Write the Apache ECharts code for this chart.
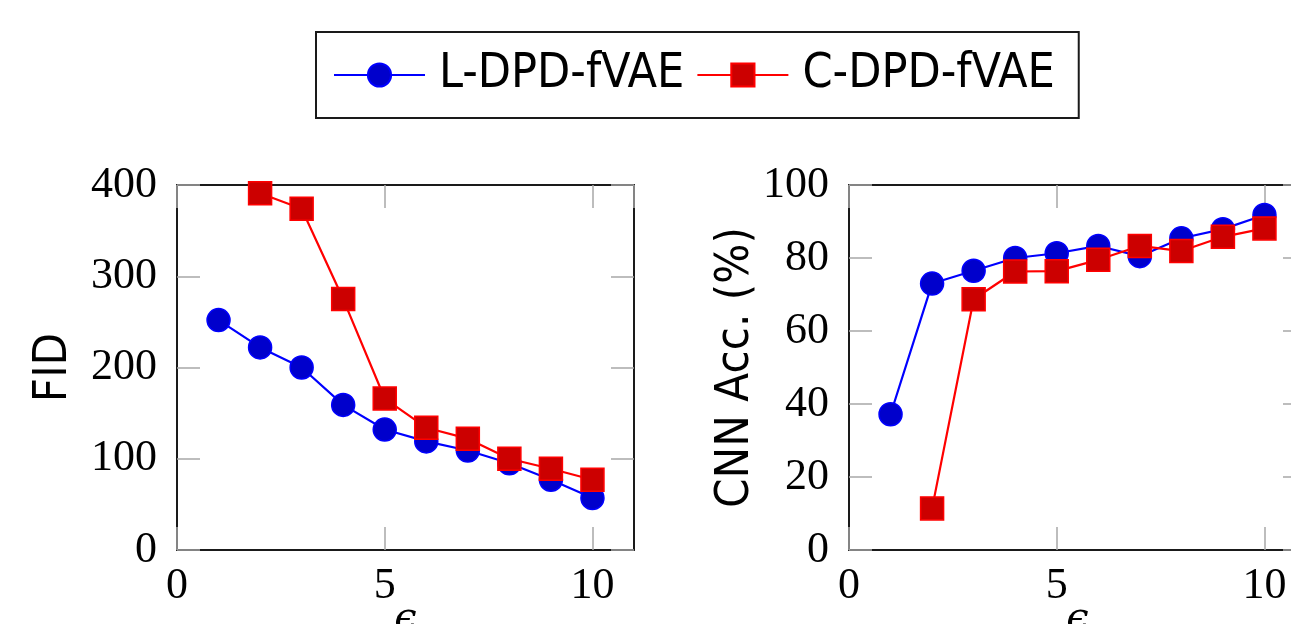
<!DOCTYPE html>
<html><head><meta charset="utf-8">
<script src="https://cdn.jsdelivr.net/npm/echarts@6/dist/echarts.min.js"></script>
<style>html,body{margin:0;padding:0;background:#fff}#c{width:1291px;height:624px}</style>
</head><body><div id="c"></div>
<script>
const seriesNames = ['L-DPD-fVAE', 'C-DPD-fVAE'];
const epsilons = [1, 2, 3, 4, 5, 6, 7, 8, 9, 10];
const fidL = [252, 222, 200, 159, 132, 119, 109, 95, 77, 57];
const fidC = [null, 391, 374, 275, 166, 134, 122, 100, 89, 77];
const accL = [37.2, 73, 76.5, 80, 81.3, 83.3, 80.5, 85.4, 87.9, 91.8];
const accC = [null, 11.4, 68.7, 76.3, 76.4, 79.5, 83.3, 81.9, 85.8, 88.1];
const xTickLabels = ['0', '5', '10'];
const fidTickLabels = ['0', '100', '200', '300', '400'];
const accTickLabels = ['0', '20', '40', '60', '80', '100'];

const pairs = ys => epsilons.map((x, i) => [x, ys[i]]).filter(p => p[1] !== null);

const serif = 'Liberation Serif';
const sans = "'DejaVu Sans Condensed', 'Liberation Sans Narrow', 'Noto Sans', sans-serif";
const tickStyle = {show: true, inside: true, length: 23, lineStyle: {color: '#a8a8a8', width: 1.5}};
const lineStyleAxis = {show: true, onZero: false, lineStyle: {color: '#1a1a1a', width: 2}};

function xAxes(grid) {
  const base = {type: 'value', gridIndex: grid, min: 0, max: 11, interval: 5,
    axisLine: lineStyleAxis, axisTick: tickStyle, splitLine: {show: false}};
  return [
    Object.assign({}, base, {position: 'bottom', z: 3,
      name: '\u03F5', nameLocation: 'middle', nameGap: 50, nameMoveOverlap: false,
      nameTextStyle: {fontFamily: 'DejaVu Serif', fontStyle: 'italic', fontSize: 40, color: '#000'},
      axisLabel: {show: true, margin: 14, fontFamily: serif, fontSize: 44, color: '#000',
        showMaxLabel: false,
        formatter: v => xTickLabels.includes(String(v)) ? String(v) : ''}}),
    Object.assign({}, base, {position: 'top', z: 3, axisLabel: {show: false}})
  ];
}
function yAxes(grid, max, interval, labels, name, gap) {
  const base = {type: 'value', gridIndex: grid, min: 0, max: max, interval: interval,
    axisLine: lineStyleAxis, axisTick: tickStyle, splitLine: {show: false}};
  return [
    Object.assign({}, base, {position: 'left', z: 3,
      name: name, nameLocation: 'middle', nameRotate: 90, nameGap: gap,
      nameTextStyle: {fontFamily: sans, fontSize: 47, color: '#000'},
      axisLabel: {show: true, margin: 20, fontFamily: serif, fontSize: 44, color: '#000',
        formatter: v => labels.includes(String(v)) ? String(v) : ''}}),
    Object.assign({}, base, {position: 'right', z: 3, axisLabel: {show: false}})
  ];
}

const lStyle = {symbol: 'circle', symbolSize: 23,
  lineStyle: {color: '#0000ff', width: 2.2},
  itemStyle: {color: '#0000cc', borderColor: '#0000ff', borderWidth: 1.5}};
const cStyle = {symbol: 'rect', symbolSize: 23,
  lineStyle: {color: '#ff0000', width: 2.2},
  itemStyle: {color: '#cc0000', borderColor: '#ff0000', borderWidth: 1.5}};

const option = {
  animation: false,
  backgroundColor: '#fff',
  legend: {
    left: 316, top: 32, orient: 'horizontal',
    padding: [18, 24, 18, 17],
    borderColor: '#1a1a1a', borderWidth: 2,
    itemWidth: 91, itemHeight: 29, itemGap: 12,
    textStyle: {fontFamily: sans, fontSize: 48, lineHeight: 50, color: '#000', padding: [0, 0, 0, 9]},
    data: seriesNames
  },
  grid: [
    {left: 177, top: 185, width: 457, height: 365, containLabel: false, outerBoundsMode: 'none'},
    {left: 849, top: 185, width: 457, height: 365, containLabel: false, outerBoundsMode: 'none'}
  ],
  xAxis: [...xAxes(0), ...xAxes(1)],
  yAxis: [...yAxes(0, 400, 100, fidTickLabels, 'FID', 100), ...yAxes(1, 100, 20, accTickLabels, 'CNN Acc. (%)', 86)],
  series: [
    Object.assign({type: 'line', name: seriesNames[0], xAxisIndex: 0, yAxisIndex: 0, data: pairs(fidL)}, lStyle),
    Object.assign({type: 'line', name: seriesNames[1], xAxisIndex: 0, yAxisIndex: 0, data: pairs(fidC)}, cStyle),
    Object.assign({type: 'line', name: seriesNames[0], xAxisIndex: 2, yAxisIndex: 2, data: pairs(accL)}, lStyle),
    Object.assign({type: 'line', name: seriesNames[1], xAxisIndex: 2, yAxisIndex: 2, data: pairs(accC)}, cStyle)
  ]
};
const chart = echarts.init(document.getElementById('c'), null, {renderer: 'canvas'});
chart.setOption(option);
</script></body></html>
